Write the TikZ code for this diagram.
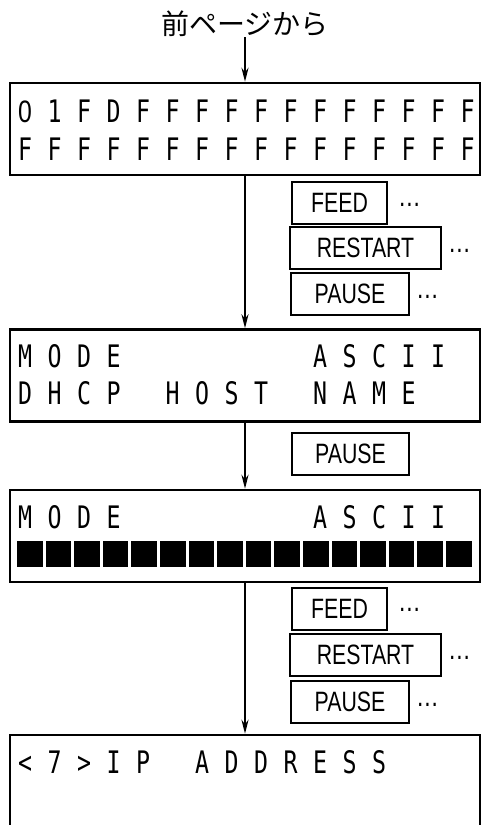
\documentclass[tikz,border=0pt]{standalone}
\usepackage{fontspec}
\usetikzlibrary{arrows.meta,positioning}
\newfontfamily\jpfont{Noto Sans CJK JP}
\newfontfamily\lcdfont[FakeStretch=0.75]{DejaVu Sans Mono}
\newfontfamily\zerofont[FakeStretch=0.8]{Liberation Sans}
\newfontfamily\keyfont[FakeStretch=0.76]{Liberation Sans}
% one row of LCD characters: baseline, first column, characters
\newcommand\lcdrow[3]{\foreach \c [count=\i from #2] in {#3} {\node[lcdch] at ({18+(\i-1)*29.5},#1) {\c};}}
\begin{document}
\begin{tikzpicture}[x=1pt,y=-1pt,>={Stealth[length=14pt,width=7pt]},
  lcd/.style={draw,line width=2.5pt,minimum width=470pt,minimum height=92pt,inner sep=0pt},
  lcdch/.style={anchor=base west,inner sep=0pt,font=\lcdfont\fontsize{31}{31}\selectfont},
  key/.style={draw,line width=2pt,inner sep=0pt,minimum height=42pt,font=\keyfont\fontsize{28}{28}\selectfont},
  more/.style={inner sep=0pt,font=\keyfont\fontsize{30}{30}\selectfont},
  link/.style={line width=2pt,->}]
\useasboundingbox (0,0) rectangle (480,825);
\node[inner sep=0pt,font=\jpfont\fontsize{28}{28}\selectfont] (top) at (245,24) {前ページから};
% displays
\node[lcd] (d1) at (245,129) {};
\node[lcd] (d2) at (245,375.5) {};
\node[lcd] (d3) at (245,536) {};
\node[lcd,minimum height=100pt] (d4) at (245,785) {};
\lcdrow{122}{1}{{\zerofont 0},1,F,D,F,F,F,F,F,F,F,F,F,F,F,F}
\lcdrow{160}{1}{F,F,F,F,F,F,F,F,F,F,F,F,F,F,F,F}
\lcdrow{367}{1}{M,O,D,E}
\lcdrow{367}{11}{A,S,C,I,I}
\lcdrow{404}{1}{D,H,C,P}
\lcdrow{404}{6}{H,O,S,T}
\lcdrow{404}{11}{N,A,M,E}
\lcdrow{528}{1}{M,O,D,E}
\lcdrow{528}{11}{A,S,C,I,I}
\foreach \i in {0,...,15}
{
    \fill ({17+\i*28.6},541) rectangle +(25.5,26);
}
\lcdrow{773}{1}{<,7,>,I,P}
\lcdrow{773}{7}{A,D,D,R,E,S,S}
% keys
\node[key,minimum width=95pt] (fa) at (339.5,202.5) {FEED};
\node[key,minimum width=151pt] (ra) at (365.5,248) {RESTART};
\node[key,minimum width=118pt] (pa) at (350,294) {PAUSE};
\node[more,right=10pt of fa,yshift=-2pt] {…};
\node[more,right=6pt of ra,yshift=-3pt] {…};
\node[more,right=6pt of pa,yshift=-3pt] {…};
\node[key,minimum width=117pt] (pb) at (350.5,453.5) {PAUSE};
\node[key,minimum width=95pt] (fc) at (339.5,609) {FEED};
\node[key,minimum width=151pt] (rc) at (365.5,655) {RESTART};
\node[key,minimum width=118pt] (pc) at (350,701.5) {PAUSE};
\node[more,right=10pt of fc,yshift=-1pt] {…};
\node[more,right=6pt of rc,yshift=-3pt] {…};
\node[more,right=6pt of pc,yshift=-3pt] {…};
% flow
\draw[link] (top) -- (d1);
\draw[link] (d1) -- (d2);
\draw[link] (d2) -- (d3);
\draw[link] (d3) -- (d4);
\end{tikzpicture}
\end{document}
